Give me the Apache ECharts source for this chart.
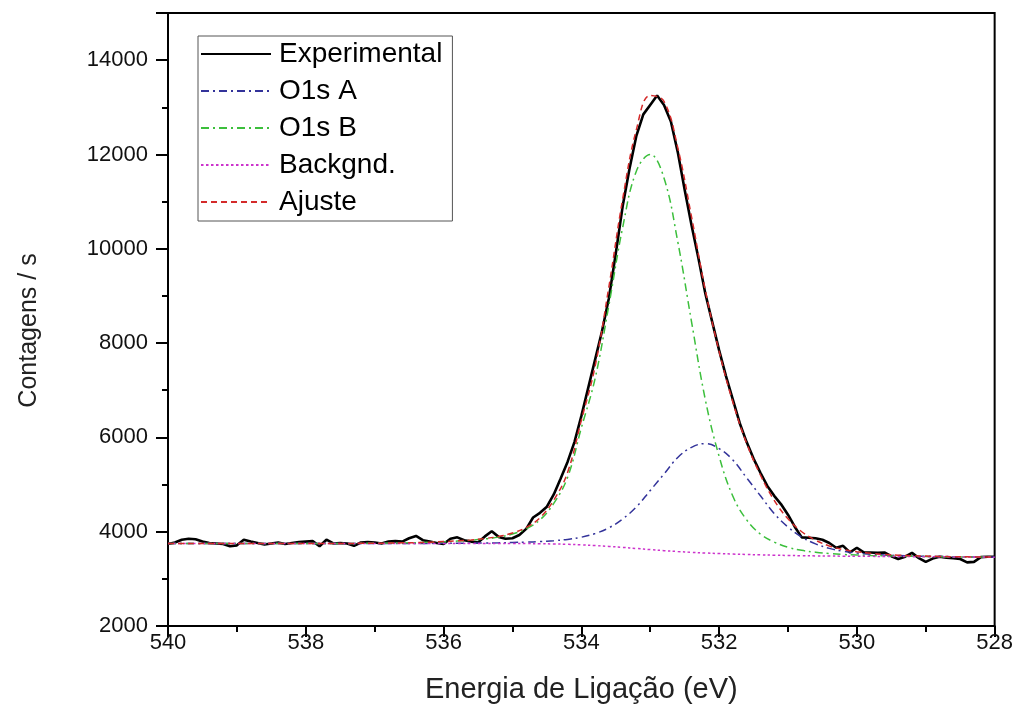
<!DOCTYPE html>
<html>
<head>
<meta charset="utf-8">
<script src="https://cdn.jsdelivr.net/npm/echarts@6/dist/echarts.min.js"></script>
<style>
html,body{margin:0;padding:0;background:#fff;}
#chart{width:1016px;height:717px;}
</style>
</head>
<body>
<div id="chart"></div>
<script>
// Experimental spectrum, 0.1 eV steps from 540.0 to 528.0
const energyExp = [
540.0,539.9,539.8,539.7,539.6,539.5,539.4,539.3,539.2,539.1,
539.0,538.9,538.8,538.7,538.6,538.5,538.4,538.3,538.2,538.1,
538.0,537.9,537.8,537.7,537.6,537.5,537.4,537.3,537.2,537.1,
537.0,536.9,536.8,536.7,536.6,536.5,536.4,536.3,536.2,536.1,
536.0,535.9,535.8,535.7,535.6,535.5,535.4,535.3,535.2,535.1,
535.0,534.9,534.8,534.7,534.6,534.5,534.4,534.3,534.2,534.1,
534.0,533.9,533.8,533.7,533.6,533.5,533.4,533.3,533.2,533.1,
533.0,532.9,532.8,532.7,532.6,532.5,532.4,532.3,532.2,532.1,
532.0,531.9,531.8,531.7,531.6,531.5,531.4,531.3,531.2,531.1,
531.0,530.9,530.8,530.7,530.6,530.5,530.4,530.3,530.2,530.1,
530.0,529.9,529.8,529.7,529.6,529.5,529.4,529.3,529.2,529.1,
529.0,528.9,528.8,528.7,528.6,528.5,528.4,528.3,528.2,528.1,
528.0];
const experimental = [
3740,3770,3830,3850,3840,3790,3760,3750,3740,3690,
3710,3830,3790,3760,3730,3750,3770,3740,3760,3780,
3790,3800,3690,3830,3750,3760,3750,3700,3770,3780,
3770,3750,3790,3800,3790,3860,3910,3820,3790,3760,
3740,3850,3880,3820,3790,3770,3900,4010,3890,3850,
3860,3930,4060,4300,4400,4530,4790,5130,5480,5900,
6450,7050,7650,8250,8950,9900,10900,11700,12400,12850,
13050,13250,13050,12700,12050,11250,10500,9800,9050,8450,
7850,7300,6800,6300,5900,5550,5250,4970,4760,4580,
4360,4100,3880,3870,3860,3830,3760,3660,3700,3560,
3660,3560,3560,3550,3560,3480,3420,3470,3550,3440,
3360,3430,3470,3450,3440,3420,3350,3360,3460,3470,
3470];

// Fitted curves, 0.2 eV steps from 540.0 to 528.0
const energyFit = [
540.0,539.8,539.6,539.4,539.2,539.0,538.8,538.6,538.4,538.2,
538.0,537.8,537.6,537.4,537.2,537.0,536.8,536.6,536.4,536.2,
536.0,535.8,535.6,535.4,535.2,535.0,534.8,534.6,534.4,534.2,
534.0,533.8,533.6,533.4,533.2,533.0,532.8,532.6,532.4,532.2,
532.0,531.8,531.6,531.4,531.2,531.0,530.8,530.6,530.4,530.2,
530.0,529.8,529.6,529.4,529.2,529.0,528.8,528.6,528.4,528.2,
528.0];
const background = [
3750,3750,3750,3750,3750,3750,3750,3750,3750,3750,
3750,3750,3750,3750,3750,3750,3750,3750,3750,3750,
3750,3750,3750,3750,3750,3750,3748,3745,3740,3732,
3721,3706,3688,3667,3644,3620,3598,3579,3562,3548,
3536,3526,3517,3509,3502,3496,3491,3487,3484,3481,
3479,3477,3475,3473,3471,3469,3467,3465,3463,3462,
3460];
const o1sA = [
3750,3750,3750,3750,3750,3750,3750,3750,3750,3750,
3750,3750,3750,3750,3750,3750,3750,3751,3751,3752,
3753,3755,3757,3760,3764,3771,3778,3791,3810,3836,
3883,3961,4082,4270,4526,4873,5222,5574,5789,5868,
5763,5521,5141,4762,4384,4099,3885,3742,3646,3585,
3549,3523,3505,3494,3485,3479,3474,3470,3466,3464,
3460];
const o1sB = [
3750,3750,3750,3750,3750,3750,3750,3750,3750,3750,
3750,3750,3750,3750,3753,3755,3758,3762,3768,3776,
3787,3800,3818,3845,3885,3950,4060,4250,4600,5150,
6200,7250,8800,10450,11650,12000,11500,10150,8450,6800,
5600,4750,4250,3950,3780,3670,3605,3565,3536,3517,
3505,3495,3488,3481,3477,3473,3467,3465,3463,3462,
3460];
const ajuste = [
3750,3750,3750,3750,3750,3750,3750,3750,3750,3750,
3750,3750,3750,3750,3753,3755,3758,3763,3769,3778,
3790,3805,3825,3855,3899,3971,4090,4296,4670,5254,
6362,7505,9194,11053,12532,13253,13124,12145,10677,9120,
7827,6745,5874,5203,4664,4273,3999,3820,3698,3621,
3575,3541,3518,3502,3491,3483,3474,3470,3466,3464,
3460];

const xTicks = [540, 538, 536, 534, 532, 530, 528];
const yTicks = [2000, 4000, 6000, 8000, 10000, 12000, 14000];

function pairs(xs, ys) { return xs.map((x, i) => [x, ys[i]]); }

const FONT = '"Liberation Sans", Arial, sans-serif';
const chart = echarts.init(document.getElementById('chart'), null, {renderer: 'canvas'});
chart.setOption({
  animation: false,
  backgroundColor: '#fff',
  textStyle: {fontFamily: FONT},
  grid: {left: 168, right: 19, top: 13, bottom: 91, show: true, borderColor: '#000', borderWidth: 2, backgroundColor: 'transparent'},
  legend: {
    orient: 'vertical',
    left: 198, top: 36,
    padding: [4, 10, 5, 2],
    itemGap: 9,
    itemWidth: 70, itemHeight: 14,
    borderColor: '#555', borderWidth: 1,
    itemStyle: {opacity: 0},
    textStyle: {fontSize: 28, color: '#000', fontFamily: FONT, padding: [0, 0, 0, 3]},
    data: ['Experimental', 'O1s A', 'O1s B', 'Backgnd.', 'Ajuste']
  },
  xAxis: {
    type: 'value', inverse: true, min: 528, max: 540, interval: 2,
    name: 'Energia de Ligação (eV)', nameLocation: 'middle', nameGap: 49,
    nameTextStyle: {fontSize: 29, color: '#222', fontFamily: FONT},
    axisLine: {lineStyle: {color: '#000', width: 2}},
    axisTick: {inside: false, length: 11, lineStyle: {color: '#000', width: 2}},
    minorTick: {show: true, splitNumber: 2, length: 6, lineStyle: {color: '#000', width: 2}},
    axisLabel: {fontSize: 22, color: '#111', margin: 6, fontFamily: FONT,
      formatter: v => xTicks.includes(v) ? String(v) : ''},
    splitLine: {show: false}
  },
  yAxis: {
    type: 'value', min: 2000, max: 15000, interval: 2000,
    name: 'Contagens / s', nameLocation: 'middle', nameGap: 126,
    nameTextStyle: {fontSize: 25, color: '#222', fontFamily: FONT, padding: [0, 22, 0, 0]},
    axisLine: {show: true, lineStyle: {color: '#000', width: 2}},
    axisTick: {show: true, inside: false, length: 12, lineStyle: {color: '#000', width: 2}},
    minorTick: {show: true, splitNumber: 2, length: 6, lineStyle: {color: '#000', width: 2}},
    axisLabel: {fontSize: 22, color: '#111', margin: 20, fontFamily: FONT, showMaxLabel: false,
      formatter: v => yTicks.includes(v) ? String(v) : ''},
    splitLine: {show: false}
  },
  series: [
    {name: 'Experimental', type: 'line', data: pairs(energyExp, experimental), symbol: 'none',
      lineStyle: {color: '#000', width: 2.6}, itemStyle: {color: '#000'}, z: 2},
    {name: 'O1s A', type: 'line', data: pairs(energyFit, o1sA), symbol: 'none', smooth: 0.4,
      lineStyle: {color: '#33339a', width: 1.5, type: [8, 4, 2, 4]}, itemStyle: {color: '#33339a'}, z: 3},
    {name: 'O1s B', type: 'line', data: pairs(energyFit, o1sB), symbol: 'none', smooth: 0.4,
      lineStyle: {color: '#3cbf3c', width: 1.5, type: [8, 4, 2, 4]}, itemStyle: {color: '#3cbf3c'}, z: 3},
    {name: 'Backgnd.', type: 'line', data: pairs(energyFit, background), symbol: 'none', smooth: 0.4,
      lineStyle: {color: '#cc33cc', width: 1.5, type: [2.5, 2.5]}, itemStyle: {color: '#cc33cc'}, z: 3},
    {name: 'Ajuste', type: 'line', data: pairs(energyFit, ajuste), symbol: 'none', smooth: 0.4,
      lineStyle: {color: '#d42a2a', width: 1.5, type: [6, 4]}, itemStyle: {color: '#d42a2a'}, z: 4}
  ]
});
</script>
</body>
</html>
